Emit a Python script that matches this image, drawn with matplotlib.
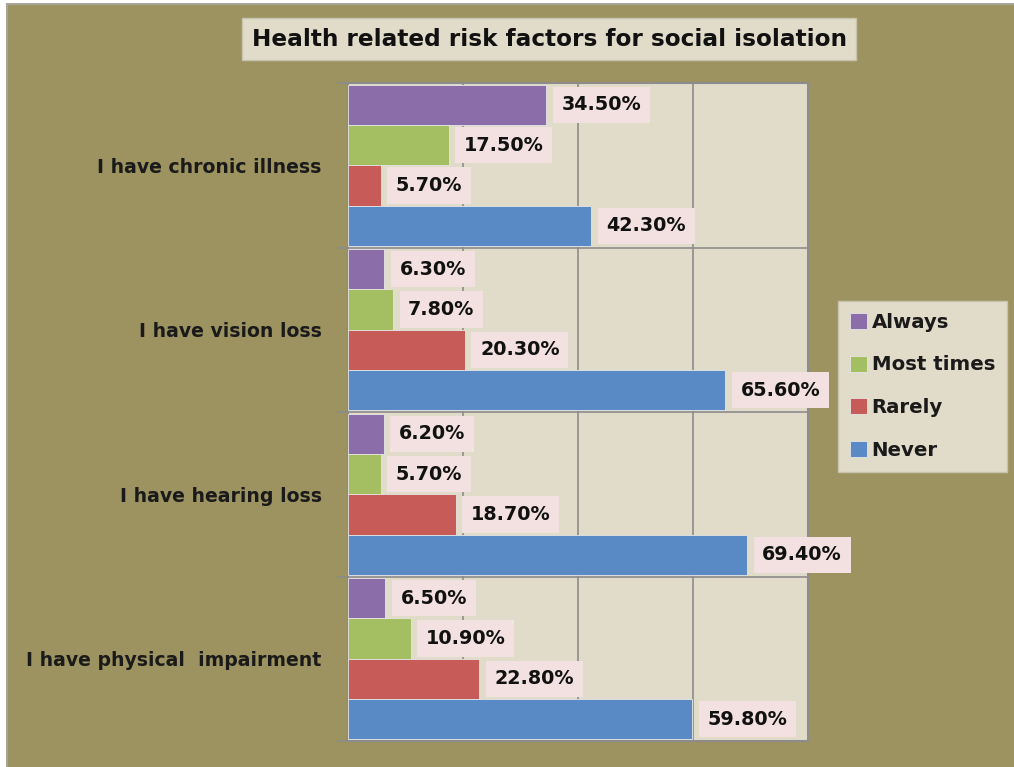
import matplotlib
matplotlib.use("Agg")
import matplotlib.pyplot as plt
import numpy as np
from matplotlib.patches import Rectangle
from matplotlib.lines import Line2D

categories = ["I have chronic illness", "I have vision loss", "I have hearing loss", "I have physical  impairment"]
series_names = ["Always", "Most times", "Rarely", "Never"]
always = [34.5, 6.3, 6.2, 6.5]
most_times = [17.5, 7.8, 5.7, 10.9]
rarely = [5.7, 20.3, 18.7, 22.8]
never = [42.3, 65.6, 69.4, 59.8]
title = "Health related risk factors for social isolation"

colors = ["#8B6DAA", "#A3BF62", "#C65B57", "#5A8AC6"]
olive = "#9D9360"
plot_bg = "#E1DCCA"
label_bg = "#F2E1E0"
grid_c = "#8C8C8C"

plt.rcParams["font.family"] = ["DejaVu Sans"]

fig = plt.figure(figsize=(10.14, 7.67), dpi=100)
fig.patch.set_facecolor(olive)
W, H = 1014, 767

# outer border strips
fig.patches.append(Rectangle((0, 0), 6 / W, 1, transform=fig.transFigure, facecolor="white", edgecolor="none", zorder=0))
fig.patches.append(Rectangle((0, 1 - 3 / H), 1, 3 / H, transform=fig.transFigure, facecolor="white", edgecolor="none", zorder=0))
fig.lines.append(Line2D([6.5 / W, 6.5 / W], [0, 1 - 3.5 / H], transform=fig.transFigure, color="#A8A8A8", lw=1.2))
fig.lines.append(Line2D([6.5 / W, 1], [1 - 3.5 / H, 1 - 3.5 / H], transform=fig.transFigure, color="#A8A8A8", lw=1.2))

left, right, top, bottom = 348 / W, 808 / W, 1 - 83 / H, 1 - 741 / H
ax = fig.add_axes([left, bottom, right - left, top - bottom])
ax.set_facecolor(plot_bg)

series = [always, most_times, rarely, never]
offsets = [-0.3675, -0.1225, 0.1225, 0.3675]
h = 0.245
y = np.arange(len(categories))
for s, vals, off, c, name in zip(range(4), series, offsets, colors, series_names):
    vals_f = np.array(vals) / 100.0
    ax.barh(y + off, vals_f, height=h, color=c, edgecolor="#E6E6E6", linewidth=0.6, label=name, zorder=3)
    for yi, v in zip(y, vals_f):
        ax.annotate(f"{v*100:.2f}%", xy=(v, yi + off), xytext=(11, 0), textcoords="offset points",
                    ha="left", va="center", fontsize=13.8, fontweight="bold", color="#111111",
                    bbox=dict(boxstyle="square,pad=0.45", facecolor=label_bg, edgecolor="none"), zorder=5)

ax.set_xlim(0, 0.8)
ax.set_ylim(3.5, -0.5)
ax.set_xticks([0.2, 0.4, 0.6])
ax.set_xticklabels([])
ax.tick_params(axis="x", length=0)
ax.grid(axis="x", color=grid_c, lw=1.2, zorder=1)
for b in [0.5, 1.5, 2.5]:
    ax.axhline(b, color=grid_c, lw=1.2, zorder=2)
ax.set_yticks([-0.5, 0.5, 1.5, 2.5, 3.5], minor=False)
ax.set_yticklabels([])
ax.tick_params(axis="y", length=8, color=grid_c, width=1.2, direction="out")
ax.set_yticks(y, minor=True)
ax.set_yticklabels(categories, minor=True, fontsize=13.6, fontweight="bold", color="#1A1A1A")
ax.tick_params(axis="y", which="minor", length=0, pad=19)
for sp in ax.spines.values():
    sp.set_color(grid_c)
    sp.set_linewidth(1.5)

leg = fig.legend(loc="upper left", bbox_to_anchor=(838 / W, 1 - 301 / H), frameon=True, framealpha=1,
                 prop={"weight": "bold", "size": 14.2}, handlelength=0.85, handleheight=0.85,
                 handletextpad=0.25, labelspacing=1.2, borderpad=0.6, borderaxespad=0, fancybox=False)
leg.get_frame().set_facecolor(plot_bg)
leg.get_frame().set_edgecolor("#C8C3AE")
leg.get_frame().set_linewidth(1.0)
for t in leg.get_texts():
    t.set_color("#1A1A1A")

fig.text(549 / W, 1 - 39 / H, title, ha="center", va="center", fontsize=16.7, fontweight="bold", color="#111111",
         bbox=dict(boxstyle="square,pad=0.4", facecolor=plot_bg, edgecolor="#C8C3AE", linewidth=1.0))

fig.savefig("out.png", dpi=100, facecolor=fig.get_facecolor())
